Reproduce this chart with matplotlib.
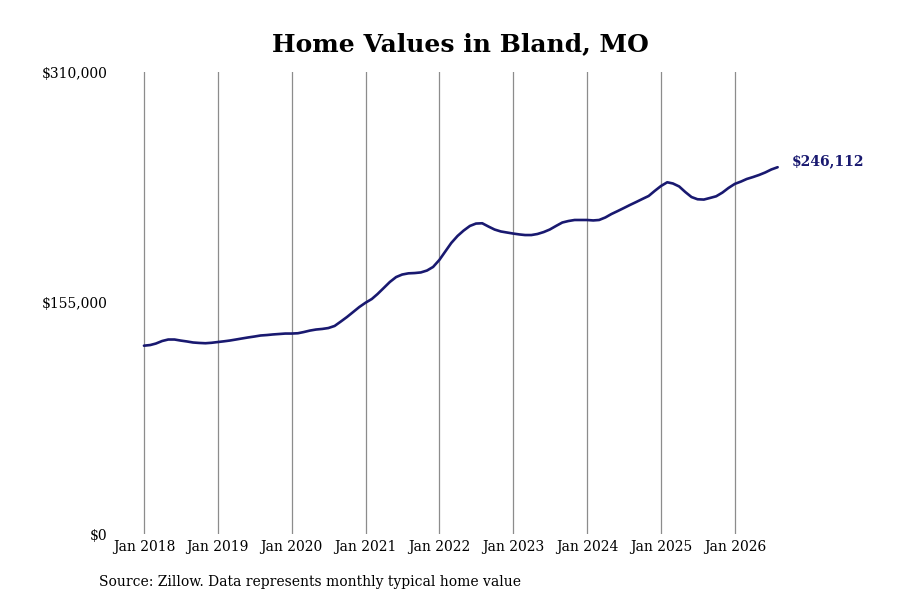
import matplotlib
matplotlib.use("Agg")
import matplotlib.pyplot as plt
import matplotlib.dates as mdates
import pandas as pd

# monthly typical home value, Jan 2018 .. Aug 2026
values = [
    126350, 126800, 127800, 129500, 130500, 130500, 129800, 129200, 128500, 128200, 128000, 128300,
    128800, 129300, 129800, 130500, 131200, 131900, 132500, 133200, 133500, 133900, 134200, 134500,
    134500, 134700, 135500, 136500, 137200, 137600, 138200, 139600, 142600, 145600, 149000, 152300,
    155200, 157700, 161000, 165100, 169100, 172400, 174100, 174900, 175100, 175500, 176800, 179200,
    183900, 189900, 195300, 200000, 203600, 206700, 208300, 208500, 206300, 204300, 203000, 202300,
    201600, 201000, 200600, 200600, 201300, 202600, 204300, 206700, 209000, 210000, 210700, 210700,
    210700, 210400, 210700, 212400, 214700, 216700, 218700, 220800, 222800, 224800, 226800, 230200,
    233500, 236000, 235200, 233200, 229500, 226100, 224600, 224400, 225500, 226600, 229100, 232200,
    234900, 236500, 238200, 239500, 240900, 242600, 244600, 246112,
]
dates = pd.date_range("2018-01-01", periods=len(values), freq="MS")
ytick_vals = [0, 155000, 310000]
ytick_labels = ["$0", "$155,000", "$310,000"]
title = "Home Values in Bland, MO"
source = "Source: Zillow. Data represents monthly typical home value"
navy = "#191970"

plt.rcParams["font.family"] = "DejaVu Serif"

fig = plt.figure(figsize=(9, 6), dpi=100)
ax = fig.add_axes([0.153, 0.11, 0.718, 0.77])

ax.plot(dates, values, color=navy, lw=1.9, solid_capstyle="round")

ax.set_xlim(pd.Timestamp("2017-12-01"), pd.Timestamp("2026-09-01"))
ax.set_ylim(0, 310000)
ax.xaxis.set_major_locator(mdates.YearLocator(month=1, day=1))
ax.xaxis.set_major_formatter(mdates.DateFormatter("Jan %Y"))
ax.set_yticks(ytick_vals)
ax.set_yticklabels(ytick_labels)

ax.grid(axis="x", color="#8c8c8c", lw=0.9)
ax.grid(axis="y", visible=False)
for s in ax.spines.values():
    s.set_visible(False)
ax.tick_params(axis="both", length=0, labelsize=10)
ax.tick_params(axis="y", pad=22)
ax.tick_params(axis="x", pad=4)

ax.annotate(f"${values[-1]:,}", xy=(dates[-1], values[-1]), xytext=(10, 4),
            textcoords="offset points", color=navy, fontsize=10, fontweight="bold",
            va="center", ha="left", annotation_clip=False)

fig.text(0.512, 0.927, title, ha="center", va="center", fontsize=18, fontweight="bold")
fig.text(0.11, 0.03, source, ha="left", va="center", fontsize=10)

fig.savefig("out.png", dpi=100)
